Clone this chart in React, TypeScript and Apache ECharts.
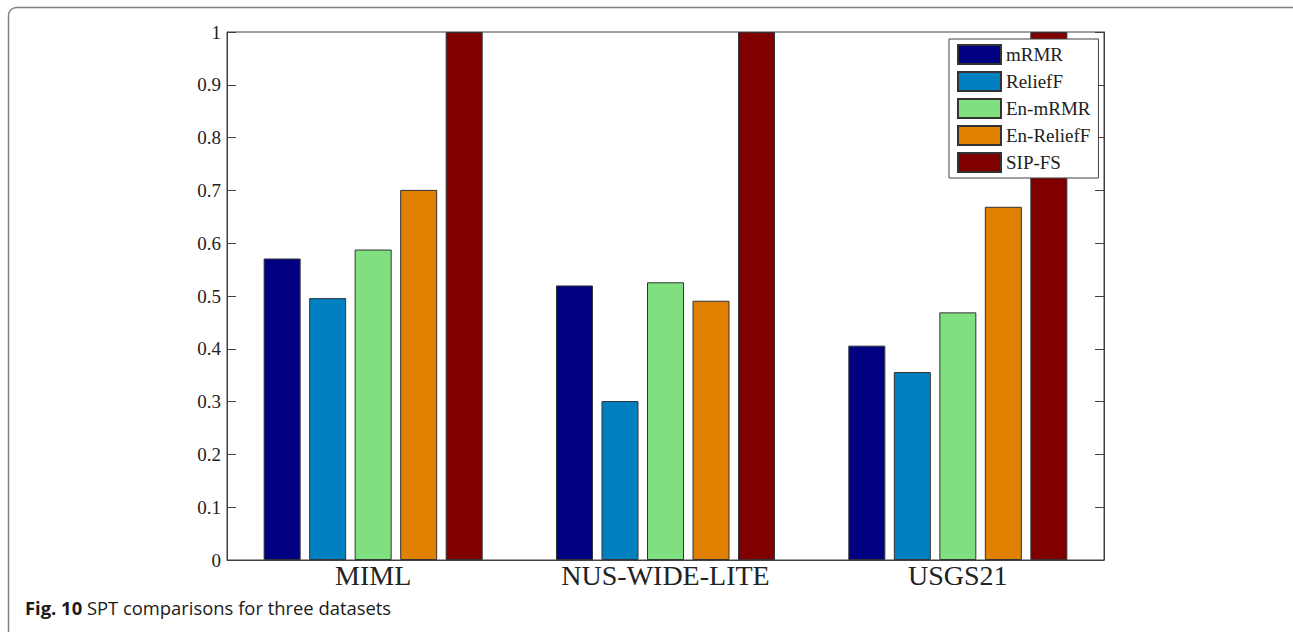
import React, { useEffect, useRef } from "react";
import * as echarts from "echarts";

const categories = ["MIML", "NUS-WIDE-LITE", "USGS21"];
const seriesNames = ["mRMR", "ReliefF", "En-mRMR", "En-ReliefF", "SIP-FS"];
const mRMR = [0.571, 0.52, 0.406];
const reliefF = [0.496, 0.301, 0.356];
const enMRMR = [0.588, 0.526, 0.469];
const enReliefF = [0.701, 0.491, 0.669];
const sipFS = [1.0, 1.0, 1.0];
const seriesValues = [mRMR, reliefF, enMRMR, enReliefF, sipFS];
const seriesColors = ["#000080", "#0080C0", "#80E080", "#E08000", "#800000"];
const captionBold = "Fig. 10";
const captionText = " SPT comparisons for three datasets";

const SERIF = "'Liberation Serif', 'Times New Roman', serif";

export default function App() {
  const ref = useRef<HTMLDivElement>(null);
  useEffect(() => {
    if (!ref.current) return;
    const chart = echarts.init(ref.current, undefined, { renderer: "svg" });
    chart.setOption({
      animation: false,
      backgroundColor: "#ffffff",
      grid: {
        left: 227,
        top: 32,
        right: 189,
        bottom: 72,
        show: true,
        borderColor: "#404040",
        borderWidth: 1,
        backgroundColor: "transparent",
      },
      legend: {
        orient: "vertical",
        left: 949,
        top: 39,
        backgroundColor: "#ffffff",
        borderColor: "#404040",
        borderWidth: 1,
        borderRadius: 0,
        padding: [5, 8, 5, 8],
        itemWidth: 43,
        itemHeight: 19,
        itemGap: 6,
        icon: "rect",
        textStyle: { fontFamily: SERIF, fontSize: 19, color: "#222" },
        data: seriesNames,
      },
      xAxis: {
        type: "category",
        data: categories,
        axisLine: { show: true, lineStyle: { color: "#404040" } },
        axisTick: { show: false },
        axisLabel: {
          fontFamily: SERIF,
          fontSize: 28,
          color: "#222",
          margin: 1,
        },
        splitLine: { show: false },
      },
      yAxis: [
        {
          type: "value",
          min: 0,
          max: 1,
          interval: 0.1,
          axisLine: { show: true, lineStyle: { color: "#404040" } },
          axisTick: { show: true, inside: true, length: 9, lineStyle: { color: "#404040" } },
          axisLabel: { fontFamily: SERIF, fontSize: 19, color: "#222", margin: 6 },
          splitLine: { show: false },
        },
        {
          type: "value",
          position: "right",
          min: 0,
          max: 1,
          interval: 0.1,
          axisLine: { show: true, lineStyle: { color: "#404040" } },
          axisTick: { show: true, inside: true, length: 9, lineStyle: { color: "#404040" } },
          axisLabel: { show: false },
          splitLine: { show: false },
        },
      ],
      series: seriesNames.map((name, i) => ({
        name,
        type: "bar",
        data: seriesValues[i],
        barWidth: 37,
        barGap: "23%",
        yAxisIndex: 0,
        itemStyle: {
          color: seriesColors[i],
          borderColor: "#333",
          borderWidth: 1,
        },
        emphasis: { disabled: true },
      })),
      graphic: [
        {
          type: "rect",
          shape: { x: 8.5, y: 7.5, width: 1300, height: 700, r: 8 },
          style: { fill: "none", stroke: "#808080", lineWidth: 1.5 },
          silent: true,
        },
        {
          type: "text",
          left: 25,
          top: 598,
          style: {
            text: `{b|${captionBold}}{r|${captionText}}`,
            rich: {
              b: {
                fontFamily: "'Open Sans', 'Noto Sans', sans-serif",
                fontWeight: "bold",
                fontSize: 18.4,
                fill: "#1a1a1a",
              },
              r: {
                fontFamily: "'Open Sans', 'Noto Sans', sans-serif",
                fontSize: 18.4,
                fill: "#1a1a1a",
              },
            },
          },
        },
      ],
    });
    return () => chart.dispose();
  }, []);
  return (
    <div
      ref={ref}
      style={{ position: "fixed", left: 0, top: 0, width: 1293, height: 632 }}
    />
  );
}
